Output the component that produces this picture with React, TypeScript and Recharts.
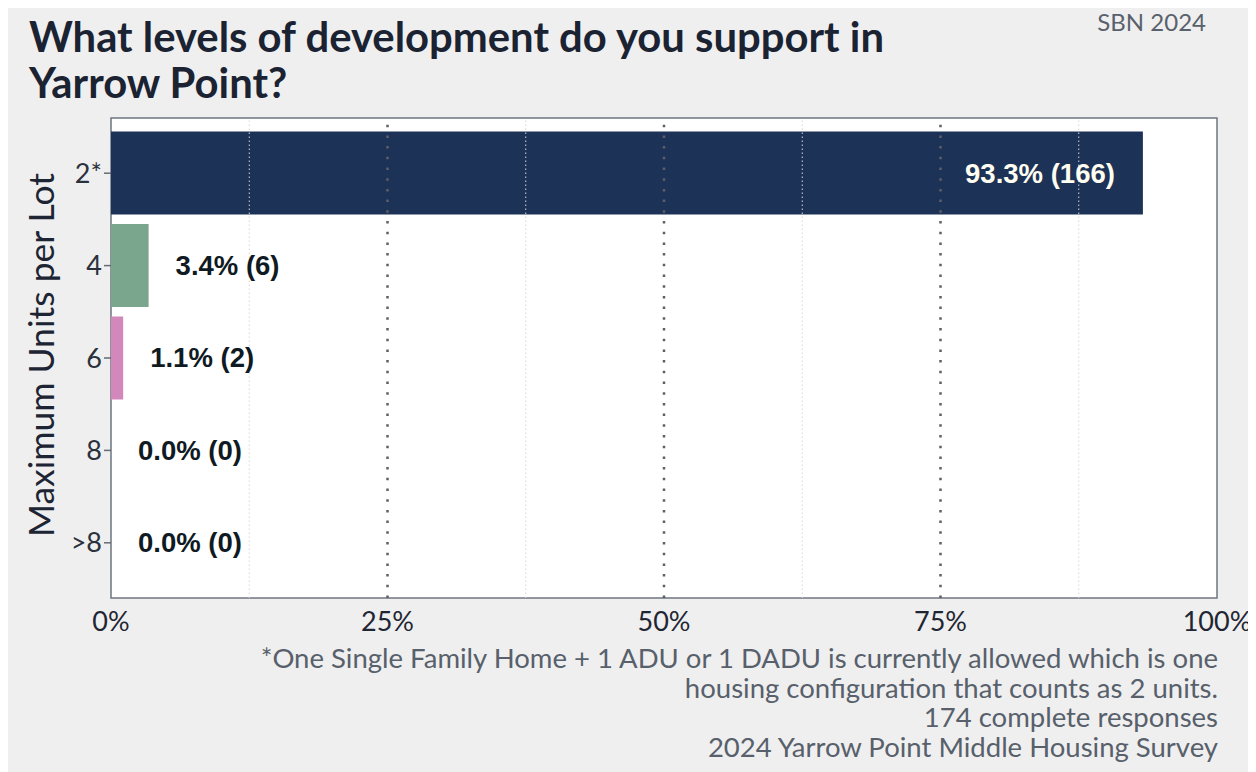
import React from 'react';
import * as R from 'recharts';

const { BarChart, Bar, XAxis, YAxis, Cell, LabelList, ReferenceLine, CartesianGrid } = R as any;

// ---- data ----
const categories = ['2*', '4', '6', '8', '>8'];
const percents = [93.3, 3.4, 1.1, 0.0, 0.0];
const counts = [166, 6, 2, 0, 0];
const barColors = ['#1d3257', '#79a68c', '#d388bb', '#ffffff', '#ffffff'];
const xTicks = [0, 25, 50, 75, 100];
const majorGrid = [25, 50, 75];
const minorGrid = [12.5, 37.5, 62.5, 87.5];
const titleLines = ['What levels of development do you support in', 'Yarrow Point?'];
const sourceTag = 'SBN 2024';
const yAxisTitle = 'Maximum Units per Lot';
const footerLines = [
  '*One Single Family Home + 1 ADU or 1 DADU is currently allowed which is one',
  'housing configuration that counts as 2 units.',
  '174 complete responses',
  '2024 Yarrow Point Middle Housing Survey',
];

const data = categories.map((c, i) => ({
  cat: c,
  pct: percents[i],
  n: counts[i],
  label: `${percents[i].toFixed(1)}% (${counts[i]})`,
}));

const W = 1248;
const H = 764;

const useOffsetHook = (R as any).useOffset;
const useWHook = (R as any).useChartWidth;
const useHHook = (R as any).useChartHeight;

function PanelBorder() {
  if (!useOffsetHook || !useWHook || !useHHook) return null;
  const off = useOffsetHook();
  const w = useWHook();
  const h = useHHook();
  if (!off || w == null || h == null) return null;
  return (
    <rect
      x={off.left}
      y={off.top}
      width={w - off.left - off.right}
      height={h - off.top - off.bottom}
      fill="none"
      stroke="#6e7580"
      strokeWidth={1.5}
    />
  );
}

const BarLabel = (props: any) => {
  const x = Number(props.x);
  const y = Number(props.y);
  const width = Number(props.width) || 0;
  const height = Number(props.height);
  const inside = width > 300;
  return (
    <text
      x={inside ? x + width - 28 : x + width + 27}
      y={y + height / 2}
      textAnchor={inside ? 'end' : 'start'}
      dominantBaseline="central"
      fill={inside ? '#fffef0' : '#0f1a22'}
      fontFamily="'Liberation Sans', Arial, Helvetica, sans-serif"
      fontWeight={700}
      fontSize={27.5}
    >
      {props.value}
    </text>
  );
};

const AxisTitle = (props: any) => {
  const vb = props.viewBox || { y: 110, height: 480 };
  const cy = vb.y + vb.height / 2 - 3;
  const x = 46;
  return (
    <text
      x={x}
      y={cy}
      transform={`rotate(-90 ${x} ${cy})`}
      textAnchor="middle"
      fill="#1d2433"
      fontFamily="Lato, sans-serif"
      fontSize={35.5}
    >
      {yAxisTitle}
    </text>
  );
};

export default function App() {
  return (
    <div
      style={{
        position: 'relative',
        width: W,
        height: H,
        background: '#efefef',
        fontFamily: 'Lato, sans-serif',
        overflow: 'hidden',
      }}
    >
      <div
        style={{
          position: 'absolute',
          left: 21,
          top: 5,
          fontSize: 41.8,
          lineHeight: '46px',
          fontWeight: 700,
          color: '#1b2333',
          whiteSpace: 'nowrap',
        }}
      >
        {titleLines.map((t, i) => (
          <div key={i}>{t}</div>
        ))}
      </div>
      <div
        style={{
          position: 'absolute',
          right: 50,
          top: 2,
          fontSize: 24,
          lineHeight: '24px',
          color: '#59616c',
          whiteSpace: 'nowrap',
        }}
      >
        {sourceTag}
      </div>
      <div style={{ position: 'absolute', left: 0, top: 0 }}>
        <BarChart
          width={W}
          height={H}
          data={data}
          layout="vertical"
          margin={{ top: 110, right: 39, bottom: 134, left: 0 }}
          barCategoryGap="5%"
        >
          <CartesianGrid horizontal={false} vertical={false} fill="#ffffff" />
          {minorGrid.map((v) => (
            <ReferenceLine
              key={`mi${v}`}
              x={v}
              stroke="#d6d6d6"
              strokeWidth={1}
              strokeDasharray="1.5 2.5"
            />
          ))}
          {majorGrid.map((v) => (
            <ReferenceLine
              key={`ma${v}`}
              x={v}
              stroke="#5c5f66"
              strokeWidth={2.5}
              strokeDasharray="2.5 8.2"
            />
          ))}
          <XAxis
            type="number"
            domain={[0, 100]}
            ticks={xTicks}
            tickFormatter={(v: number) => `${v}%`}
            axisLine={false}
            tickLine={false}
            tickSize={0}
            tickMargin={14}
            height={40}
            interval={0}
            tick={{ fill: '#1f2633', fontSize: 27, fontFamily: 'Lato, sans-serif' }}
          />
          <YAxis
            type="category"
            dataKey="cat"
            width={103}
            axisLine={false}
            tickSize={7}
            tickMargin={2}
            tickLine={{ stroke: '#666b73', strokeWidth: 1.5 }}
            padding={{ top: 9, bottom: 9 }}
            interval={0}
            tick={{ fill: '#2b313c', fontSize: 27, fontFamily: 'Lato, sans-serif' }}
            label={<AxisTitle />}
          />
          <Bar dataKey="pct" isAnimationActive={false} minPointSize={0.01}>
            {data.map((d, i) => (
              <Cell key={d.cat} fill={barColors[i]} />
            ))}
            <LabelList dataKey="label" content={<BarLabel />} />
          </Bar>
          <PanelBorder />
        </BarChart>
      </div>
      <div
        style={{
          position: 'absolute',
          right: 38,
          top: 635,
          fontSize: 27.5,
          lineHeight: '29.5px',
          color: '#57606b',
          textAlign: 'right',
          whiteSpace: 'nowrap',
        }}
      >
        {footerLines.map((t, i) => (
          <div key={i}>{t}</div>
        ))}
      </div>
    </div>
  );
}
